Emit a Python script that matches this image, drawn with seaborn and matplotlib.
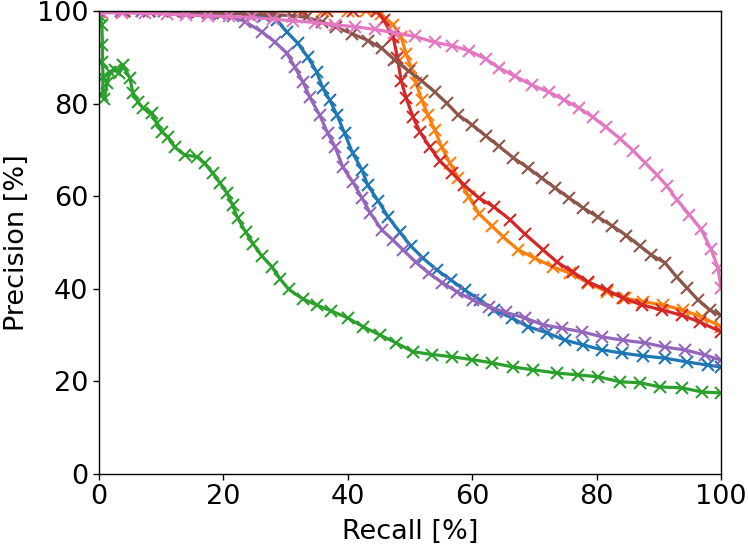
import matplotlib
matplotlib.use("Agg")
import matplotlib.pyplot as plt
import seaborn as sns
import pandas as pd

blue_r = [0, 3.5, 7, 10.5, 14, 17.5, 21, 24, 26.5, 28.6, 30.2, 32, 33.6, 35, 36, 37.1, 38.3, 39.5, 40.8, 42.3,
          43.2, 44.9, 46.5, 48.4, 50.1, 52.1, 54.3, 56.6, 58.8, 61.3, 63.5, 66.4, 69, 72, 74.9, 77.8, 80.9, 84.1,
          87.5, 91, 94.5, 97.9, 100]
blue_p = [100, 100, 100, 99.9, 99.8, 99.7, 99.5, 99.3, 98.8, 98, 95.5, 93, 90, 86.9, 83.3, 80.8, 77.5, 73.6, 69.3,
          65.7, 62.4, 59.0, 55.5, 52.2, 49.3, 46.6, 44.1, 41.9, 39.7, 37.6, 35.4, 33.7, 31.8, 30.5, 28.9, 27.9, 26.8,
          26.1, 25.5, 25.0, 24.2, 23.5, 23.1]

orange_r = [0, 4, 8, 12, 16, 20, 24, 28, 32, 36, 40, 43, 45.3, 47.3, 48.6, 49.4, 50.2, 51, 51.9, 52.9, 54, 55.1,
            56.4, 57.8, 59.5, 61.1, 63.2, 65, 67.4, 70.1, 73, 75.7, 78.6, 81.7, 84.6, 87.5, 90.7, 93.9, 96.9, 100]
orange_p = [100, 100, 100, 100, 100, 100, 100, 100, 100, 100, 100, 100, 99.4, 97, 94.4, 90.7, 87.7, 84.4, 80.8,
            77.5, 74.3, 70.6, 67.2, 63.9, 59.8, 56.2, 53.5, 51.2, 48.4, 46.6, 44.7, 43.4, 41.3, 39.3, 38, 37.2, 36.5,
            35.4, 33.9, 31.8]

green_r = [0.2, 0.5, 0.6, 0.6, 0.7, 0.6, 0.9, 1.3, 1.8, 2.6, 3.2, 3.9, 5.0, 5.5, 6.3, 7.1, 8.5, 9.3, 10.1, 11.1,
           12.2, 13.8, 15.8, 17.0, 18.3, 19.5, 20.6, 21.5, 22.3, 23.6, 24.8, 26.2, 27.8, 29.1, 30.5, 32.8, 35, 37.4,
           40, 42.5, 45.2, 47.8, 50.5, 53.6, 56.8, 60, 63.2, 66.6, 69.8, 73.6, 77, 80.2, 83.8, 87, 90.2, 93.7, 97, 100]
green_p = [99, 97, 92.7, 89, 85.8, 81.9, 81, 84.4, 86.9, 87.3, 86.5, 88.3, 85.5, 82.2, 80.4, 79, 77.9, 75.8, 73.9,
           72.8, 70.6, 68.9, 68.5, 67.1, 65, 62.8, 60.7, 58.1, 55.3, 52.3, 49.7, 47.1, 44.8, 42.2, 39.9, 37.8, 36.5,
           35.2, 33.7, 31.8, 30.0, 28.3, 26.4, 25.8, 25.3, 24.7, 24.0, 23.1, 22.5, 21.8, 21.4, 21.0, 19.9, 19.7, 18.8,
           18.6, 17.7, 17.5]

red_r = [0, 4, 8, 12, 16, 20, 24, 28, 32.8, 36.7, 40.8, 44.7, 45.8, 47.3, 48, 48.6, 49.4, 50.5, 51.6, 53.2, 54.8,
         56.8, 58.7, 61.1, 63.5, 66.1, 68.5, 71.4, 73.6, 76.2, 78.6, 81.7, 84.2, 87.3, 90.5, 93.7, 96.6, 100]
red_p = [100, 100, 100, 100, 100, 100, 100, 100, 100, 100, 100, 100, 98, 94.4, 89.9, 84.9, 81.2, 77.1, 73.9, 70.6,
         67.6, 65, 62.4, 59.6, 57.7, 54.9, 51.8, 48.4, 45.8, 43.6, 41.5, 39.7, 38, 36.5, 35.4, 34.3, 32.8, 30.7]

purple_r = [0, 3.5, 7, 10.5, 14, 17.5, 19.5, 21.5, 23.5, 26.2, 28.3, 30.2, 31.5, 32.8, 33.9, 35.5, 36.8, 38, 39.2,
            40.8, 42.3, 43.6, 45.5, 47.3, 48.9, 50.9, 53.0, 55.2, 57.6, 60.1, 62.7, 65.4, 68.5, 71.4, 74.4, 77.7,
            80.9, 84.2, 87.8, 91, 94.2, 97.4, 100]
purple_p = [100, 100, 100, 99.9, 99.8, 99.5, 99.3, 98.8, 97.7, 95.5, 93.3, 90.9, 87.9, 84.7, 81.4, 77.5, 73.6, 70.6,
            66.3, 63.1, 59.6, 56.4, 52.7, 50.5, 48.4, 45.8, 43.4, 41.3, 39.3, 37.6, 36.1, 34.9, 33.7, 32.2, 31.5,
            30.7, 29.6, 28.9, 28.3, 27.4, 26.8, 25.7, 24.6]

brown_r = [0, 4, 8, 12, 16, 20, 24, 28, 31, 33.4, 35.8, 38.1, 40.7, 43.3, 45.5, 47.5, 49.8, 51.9, 54, 55.9, 57.8,
           60, 62.2, 64.3, 66.6, 69, 71.2, 73.3, 75.6, 77.8, 80.2, 82.5, 84.8, 87, 88.8, 91, 92.9, 94.5, 96.3, 98.2,
           100]
brown_p = [100, 100, 100, 99.9, 99.8, 99.6, 99.4, 99.2, 99, 98.6, 97.7, 96.5, 95.1, 93.6, 91.9, 89.5, 87, 84.9,
           82.5, 80.1, 77.5, 75.4, 73, 70.8, 68.3, 66.1, 63.9, 61.8, 59.6, 57.5, 55.5, 53.6, 51.5, 49.2, 47.3, 45.6,
           42.5, 40.2, 37.6, 35.4, 34.3]

pink_r = [0.5, 3.7, 7.4, 11, 14.1, 17.5, 21, 24.6, 28, 31.2, 34.7, 37.9, 41.2, 44.4, 47.5, 50.8, 54, 56.8, 59.5,
          62.2, 64.3, 66.9, 69.6, 72.3, 74.8, 77.2, 79.4, 81.5, 83.8, 85.9, 87.8, 89.7, 91.3, 92.9, 94.9, 96.8, 98.4,
          99.5, 100]
pink_p = [99.6, 99.6, 99.5, 99.3, 99.1, 98.9, 98.8, 98.6, 98.2, 97.9, 97.5, 97.0, 96.6, 96.0, 95.3, 94.5, 93.2,
          92.5, 91.4, 89.6, 87.7, 85.9, 84, 82.5, 80.8, 79, 77.1, 74.9, 72.4, 69.8, 67.2, 64.6, 62.2, 59.2, 56.0,
          52.8, 48.5, 44.5, 40.2]

series = [
    (blue_r, blue_p, "#1f77b4"),
    (orange_r, orange_p, "#ff7f0e"),
    (green_r, green_p, "#2ca02c"),
    (red_r, red_p, "#d62728"),
    (purple_r, purple_p, "#9467bd"),
    (brown_r, brown_p, "#8c564b"),
    (pink_r, pink_p, "#e377c2"),
]

ticks = [0, 20, 40, 60, 80, 100]

sns.set_style("ticks")
plt.rcParams["font.family"] = ["DejaVu Sans"]
plt.rcParams["xtick.direction"] = "out"
plt.rcParams["ytick.direction"] = "out"
for k in ["text.color", "axes.labelcolor", "xtick.color", "ytick.color", "axes.edgecolor"]:
    plt.rcParams[k] = "black"

fig = plt.figure(figsize=(7.48, 5.47), dpi=100)
ax = fig.add_axes([0.132, 0.1335, 0.832, 0.8465])

for r, p, c in series:
    df = pd.DataFrame({"recall": r, "precision": p})
    sns.lineplot(data=df, x="recall", y="precision", ax=ax, color=c, sort=False, estimator=None,
                 linewidth=2.3, marker="x", markersize=8.5, markeredgewidth=1.5,
                 markeredgecolor=c, markerfacecolor=c)

ax.set_xlim(0, 100)
ax.set_ylim(0, 100)
ax.set_xticks(ticks)
ax.set_yticks(ticks)
ax.tick_params(labelsize=19.5, length=4, width=1, color="black", labelcolor="black")
ax.set_xlabel("Recall [%]", fontsize=19.5, labelpad=6, color="black")
ax.set_ylabel("Precision [%]", fontsize=19.5, labelpad=5, color="black")
for s in ax.spines.values():
    s.set_visible(True)
    s.set_color("black")
    s.set_linewidth(1.0)

fig.savefig("out.png", dpi=100)
